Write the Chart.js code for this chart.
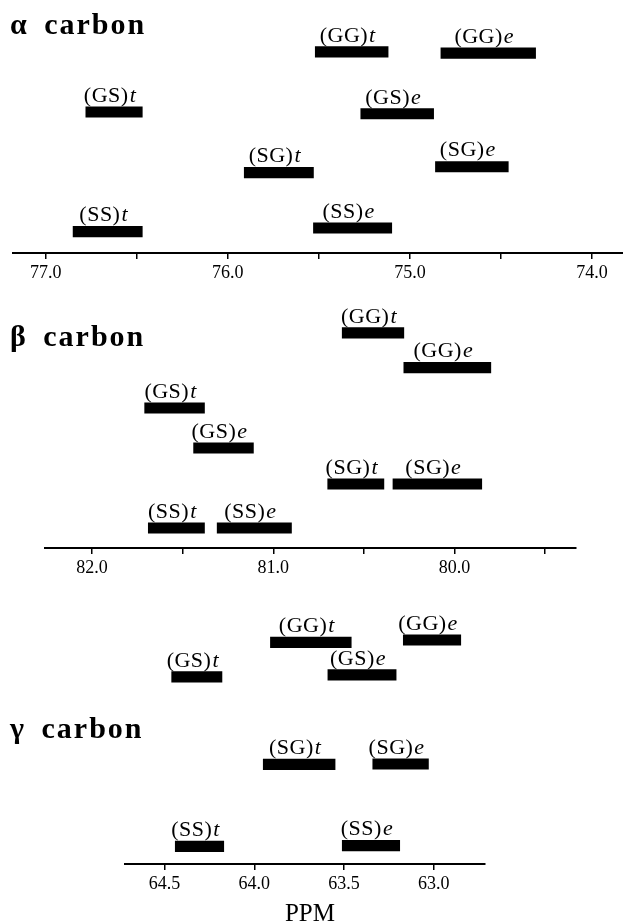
<!DOCTYPE html>
<html>
<head>
<meta charset="utf-8">
<script src="https://cdn.jsdelivr.net/npm/chart.js@4/dist/chart.umd.min.js"></script>
<style>
  html, body { margin: 0; padding: 0; background: #fff; }
  #wrap { position: relative; width: 623px; height: 922px; overflow: hidden; background: #fff; }
  canvas { position: absolute; left: 0; }
  .title { position: absolute; left: 10px; font-family: "Liberation Serif", serif; font-weight: bold;
           font-size: 30px; line-height: 30px; letter-spacing: 2px; word-spacing: 6px; color: #000; white-space: nowrap; }
  .ppm { position: absolute; left: 250px; width: 120px; text-align: center; font-family: "Liberation Serif", serif;
         font-size: 25px; line-height: 25px; color: #000; }
</style>
</head>
<body>
<div id="wrap">
  <canvas id="cA" width="623" height="290" style="top:0px"></canvas>
  <canvas id="cB" width="623" height="300" style="top:290px"></canvas>
  <canvas id="cG" width="623" height="332" style="top:590px"></canvas>
  <div class="title" style="top:9px">α carbon</div>
  <div class="title" style="top:321px">β carbon</div>
  <div class="title" style="top:713px">γ carbon</div>
  <div class="ppm" style="top:900px">PPM</div>
</div>
<script>
// ---- data ----
const conformers = ['GG', 'GS', 'SG', 'SS'];
const seriesNames = ['t', 'e'];

// alpha carbon: [start, end] ppm ranges
const alphaT = [[75.52, 75.12], [76.78, 76.47], [75.91, 75.53], [76.85, 76.47]];
const alphaE = [[74.83, 74.31], [75.27, 74.87], [74.86, 74.46], [75.53, 75.10]];
const alphaRowT = [4.00, 2.99, 1.97, 0.98];
const alphaRowE = [3.98, 2.96, 2.07, 1.04];

// beta carbon
const betaT = [[80.62, 80.28], [81.71, 81.38], [80.70, 80.39], [81.69, 81.38]];
const betaE = [[80.28, 79.80], [81.44, 81.11], [80.34, 79.85], [81.31, 80.90]];
const betaRowT = [5.88, 4.00, 2.10, 1.00];
const betaRowE = [5.01, 3.00, 2.10, 1.00];

// gamma carbon
const gammaT = [[63.91, 63.46], [64.46, 64.18], [63.95, 63.55], [64.44, 64.17]];
const gammaE = [[63.17, 62.85], [63.59, 63.21], [63.34, 63.03], [63.51, 63.19]];
const gammaRowT = [6.04, 5.18, 2.99, 0.94];
const gammaRowE = [6.10, 5.23, 3.00, 0.96];

// ---- label plugin ----
const LABEL_FONT = '"Liberation Serif", serif';
const barLabels = {
  id: 'barLabels',
  afterDatasetsDraw(chart) {
    const ctx = chart.ctx;
    ctx.save();
    ctx.fillStyle = '#000';
    ctx.textBaseline = 'alphabetic';
    ctx.textAlign = 'left';
    try { ctx.letterSpacing = '0.5px'; } catch (e) {}
    chart.data.datasets.forEach((ds, di) => {
      const meta = chart.getDatasetMeta(di);
      meta.data.forEach((bar, i) => {
        const p = bar.getProps(['x', 'y', 'base', 'height'], true);
        const name = '(' + conformers[i] + ')';
        const suf = ds.suffix;
        ctx.font = '22px ' + LABEL_FONT;
        const w1 = ctx.measureText(name).width;
        ctx.font = 'italic 22px ' + LABEL_FONT;
        const w2 = ctx.measureText(suf).width;
        const cx = (p.x + p.base) / 2 - 4;
        const top = p.y - p.height / 2;
        const x0 = cx - (w1 + w2 + 1) / 2;
        const yb = top - 5;
        ctx.font = '22px ' + LABEL_FONT;
        ctx.fillText(name, x0, yb);
        ctx.font = 'italic 22px ' + LABEL_FONT;
        ctx.fillText(suf, x0 + w1 + 1, yb);
      });
    });
    ctx.restore();
  }
};

function makeDatasets(tVals, eVals, tRows, eRows) {
  return [
    { label: seriesNames[0], suffix: seriesNames[0],
      data: conformers.map((c, i) => ({ x: tVals[i], y: tRows[i] })) },
    { label: seriesNames[1], suffix: seriesNames[1],
      data: conformers.map((c, i) => ({ x: eVals[i], y: eRows[i] })) }
  ].map(d => Object.assign(d, {
    backgroundColor: '#000', borderWidth: 0, barThickness: 10.5, grouped: false
  }));
}

function makeChart(id, datasets, cfg) {
  return new Chart(document.getElementById(id), {
    type: 'bar',
    data: { datasets },
    plugins: [barLabels],
    options: {
      indexAxis: 'y',
      responsive: false,
      animation: false,
      devicePixelRatio: 1,
      layout: { padding: cfg.padding },
      plugins: { legend: { display: false }, tooltip: { enabled: false }, title: { display: false } },
      scales: {
        x: {
          type: 'linear',
          reverse: true,
          min: cfg.xMin, max: cfg.xMax,
          offset: false,
          grid: { display: true, drawOnChartArea: false, drawTicks: true, tickLength: 6,
                  color: '#000', lineWidth: 1.5, offset: false },
          border: { display: true, color: '#000', width: 2 },
          ticks: {
            stepSize: 0.5, includeBounds: false, autoSkip: false, maxRotation: 0, padding: 3, color: '#000',
            font: { family: '"Liberation Serif", serif', size: 18 },
            callback: (v) => (cfg.labelAll || Math.abs(v - Math.round(v)) < 1e-6) ? Number(v).toFixed(1) : ''
          },
          afterBuildTicks: (scale) => {
            scale.ticks = scale.ticks.filter(t => Math.abs(t.value * 2 - Math.round(t.value * 2)) < 1e-6);
          },
          afterFit: (scale) => { scale.height = 30; scale.paddingLeft = 0; scale.paddingRight = 0; }
        },
        y: {
          type: 'linear', display: false, offset: false,
          min: cfg.yMin, max: cfg.yMax
        }
      }
    }
  });
}

makeChart('cA', makeDatasets(alphaT, alphaE, alphaRowT, alphaRowE), {
  xMin: 73.83, xMax: 77.18, yMin: 0.62, yMax: 4.654,
  padding: { top: 13, bottom: 7, left: 13, right: 0 }
});
makeChart('cB', makeDatasets(betaT, betaE, betaRowT, betaRowE), {
  xMin: 79.33, xMax: 82.26, yMin: 0.5, yMax: 6.7,
  padding: { top: 10, bottom: 12, left: 45, right: 47 }
});
makeChart('cG', makeDatasets(gammaT, gammaE, gammaRowT, gammaRowE), {
  xMin: 62.715, xMax: 64.72, yMin: 0.5, yMax: 7.1, labelAll: true,
  padding: { top: 10, bottom: 28, left: 125, right: 138 }
});
</script>
</body>
</html>
